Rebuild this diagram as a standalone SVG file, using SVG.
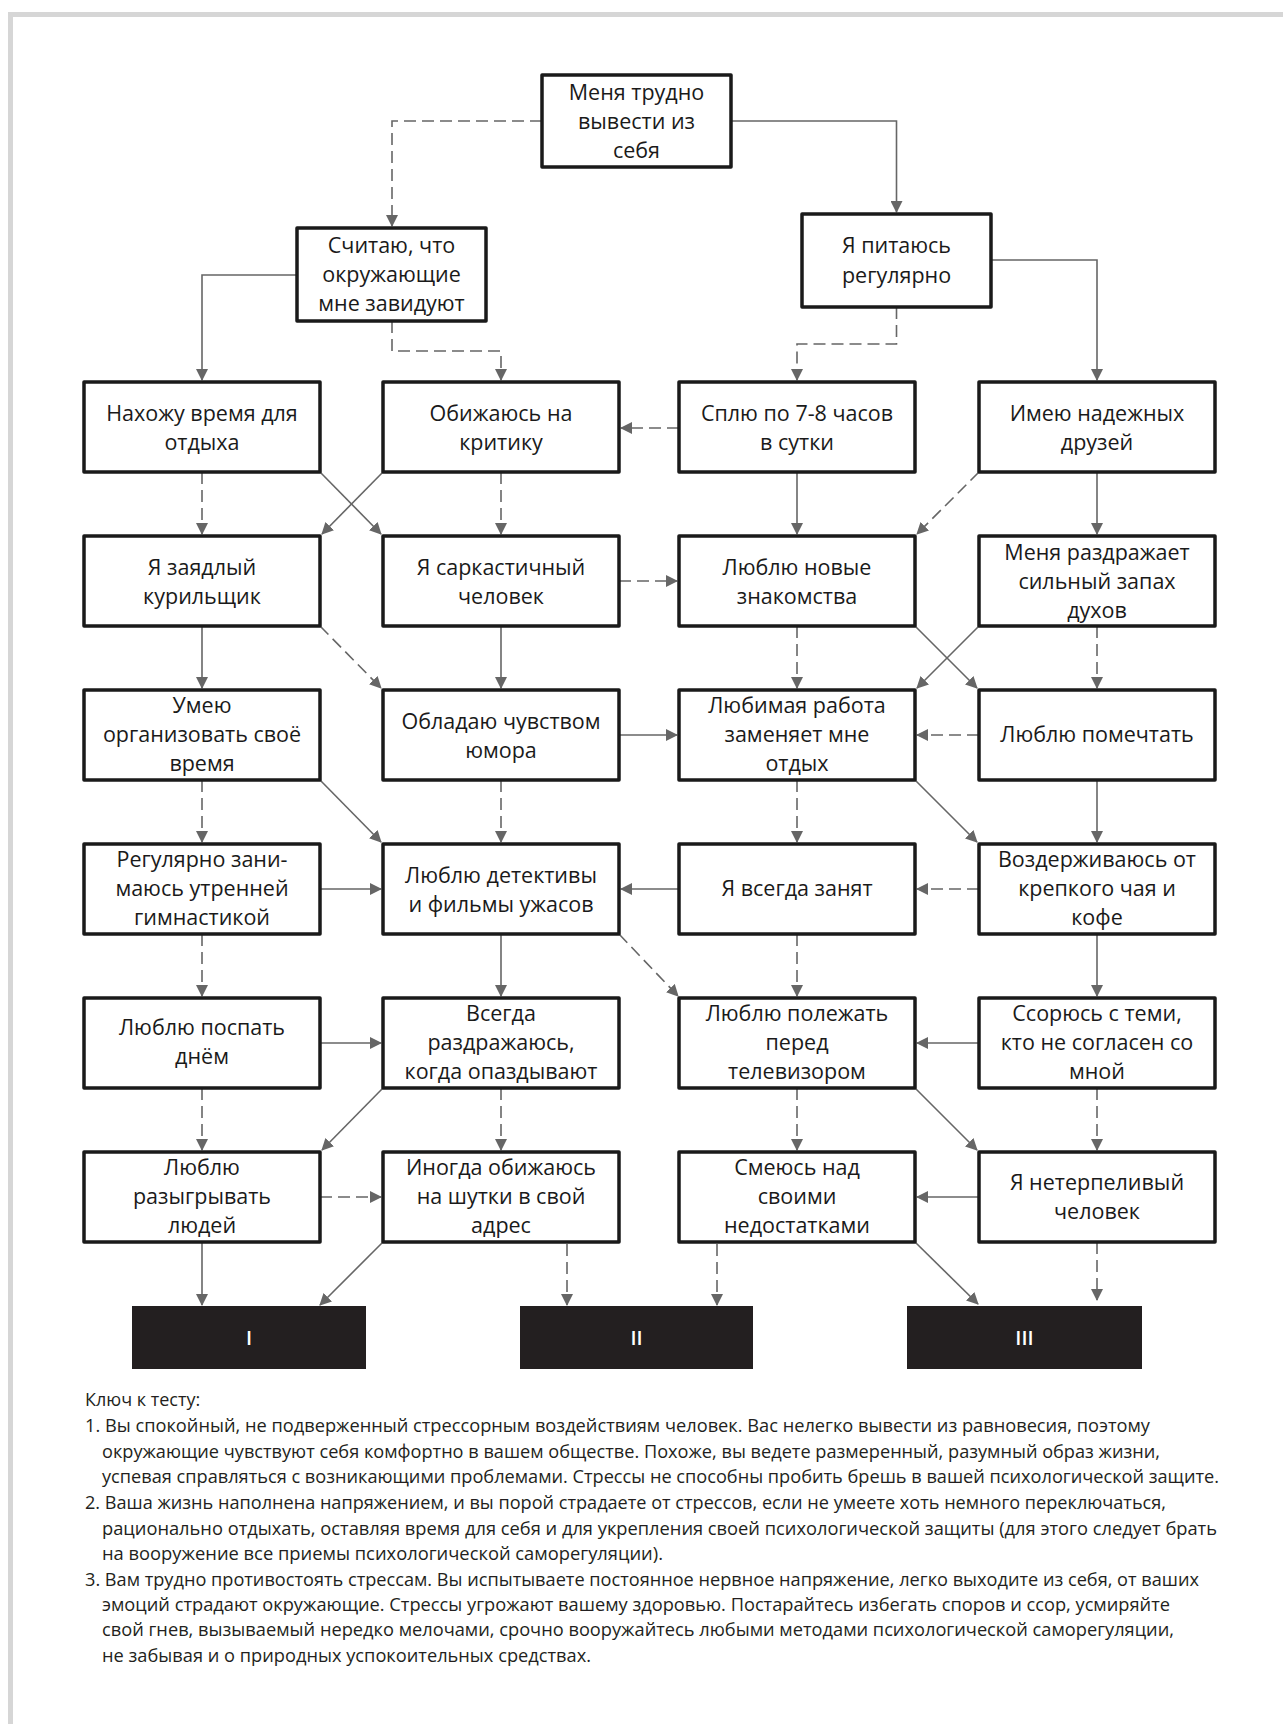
<svg xmlns="http://www.w3.org/2000/svg" width="1283" height="1724" viewBox="0 0 1283 1724">
<defs>
<marker id="ah" markerUnits="userSpaceOnUse" markerWidth="12" markerHeight="12" refX="11" refY="6" orient="auto">
<path d="M0,0 L12,6 L0,12 z" fill="#666"/>
</marker>
<style>
.box{fill:#fff;stroke:#1a1a1a;stroke-width:3.5;stroke-linejoin:round}
.out{fill:#231f20}
.t{font-family:"Open Sans","Noto Sans","DejaVu Sans",sans-serif;font-size:21.5px;fill:#1a1a1a;text-anchor:middle}
.ot{font-family:"Open Sans","Noto Sans",sans-serif;font-size:20px;font-weight:600;fill:#fff;text-anchor:middle}
.s{fill:none;stroke:#666;stroke-width:1.6;marker-end:url(#ah)}
.d{fill:none;stroke:#666;stroke-width:1.6;stroke-dasharray:12 6;marker-end:url(#ah)}
.lg{font-family:"Open Sans","Noto Sans",sans-serif;font-size:18px;fill:#231f20}
</style>
</defs>
<rect x="0" y="0" width="1283" height="1724" fill="#fff"/>
<path d="M10.5,1724 V14.5 H1283" fill="none" stroke="#d6d6d6" stroke-width="5"/>

<g id="connectors">
<path class="d" d="M542,121 H392 V226"/>
<path class="s" d="M731,121 H896.5 V212"/>
<path class="s" d="M297,275 H202 V380"/>
<path class="d" d="M392,321 V351 H501 V380"/>
<path class="d" d="M896.5,307 V344 H797 V380"/>
<path class="s" d="M991,260 H1097 V380"/>
<path class="d" d="M679,428 H621"/>
<path class="d" d="M202,472 V534"/>
<path class="s" d="M320,472 L381,534"/>
<path class="s" d="M383,472 L322,534"/>
<path class="d" d="M501,472 V534"/>
<path class="s" d="M797,472 V534"/>
<path class="d" d="M979,472 L917,534"/>
<path class="s" d="M1097,472 V534"/>
<path class="d" d="M619,581 H677"/>
<path class="s" d="M202,626 V688"/>
<path class="d" d="M320,626 L381,688"/>
<path class="s" d="M501,626 V688"/>
<path class="d" d="M797,626 V688"/>
<path class="s" d="M915,626 L977,688"/>
<path class="s" d="M979,626 L917,688"/>
<path class="d" d="M1097,626 V688"/>
<path class="s" d="M619,735 H677"/>
<path class="d" d="M979,735 H917"/>
<path class="d" d="M202,780 V842"/>
<path class="s" d="M320,780 L381,842"/>
<path class="d" d="M501,780 V842"/>
<path class="d" d="M797,780 V842"/>
<path class="s" d="M915,780 L977,842"/>
<path class="s" d="M1097,780 V842"/>
<path class="s" d="M320,889 H381"/>
<path class="s" d="M679,889 H621"/>
<path class="d" d="M979,889 H917"/>
<path class="d" d="M202,934 V996"/>
<path class="s" d="M501,934 V996"/>
<path class="d" d="M619,934 L678,996"/>
<path class="d" d="M797,934 V996"/>
<path class="s" d="M1097,934 V996"/>
<path class="s" d="M320,1043 H381"/>
<path class="s" d="M979,1043 H917"/>
<path class="d" d="M202,1088 V1150"/>
<path class="s" d="M383,1088 L322,1150"/>
<path class="d" d="M501,1088 V1150"/>
<path class="d" d="M797,1088 V1150"/>
<path class="s" d="M915,1088 L977,1150"/>
<path class="d" d="M1097,1088 V1150"/>
<path class="d" d="M320,1197 H381"/>
<path class="s" d="M979,1197 H917"/>
<path class="s" d="M202,1242 V1305"/>
<path class="s" d="M383,1242 L320,1305"/>
<path class="d" d="M567,1244 V1305"/>
<path class="d" d="M717,1244 V1305"/>
<path class="s" d="M915,1242 L978,1304"/>
<path class="d" d="M1097,1242 V1300"/>
</g>

<g id="n0"><rect class="box" x="542" y="75" width="189" height="92"/>
<text class="t" x="636.5" y="100">Меня трудно</text><text class="t" x="636.5" y="129">вывести из</text><text class="t" x="636.5" y="158">себя</text></g>
<g id="n1"><rect class="box" x="297" y="228" width="189" height="93"/>
<text class="t" x="391.5" y="253">Считаю, что</text><text class="t" x="391.5" y="282">окружающие</text><text class="t" x="391.5" y="311">мне завидуют</text></g>
<g id="n2"><rect class="box" x="802" y="214" width="189" height="93"/>
<text class="t" x="896.5" y="253">Я питаюсь</text><text class="t" x="896.5" y="283">регулярно</text></g>

<g id="r1c1"><rect class="box" x="84" y="382" width="236" height="90"/>
<text class="t" x="202" y="421">Нахожу время для</text><text class="t" x="202" y="450">отдыха</text></g>
<g id="r1c2"><rect class="box" x="383" y="382" width="236" height="90"/>
<text class="t" x="501" y="421">Обижаюсь на</text><text class="t" x="501" y="450">критику</text></g>
<g id="r1c3"><rect class="box" x="679" y="382" width="236" height="90"/>
<text class="t" x="797" y="421">Сплю по 7-8 часов</text><text class="t" x="797" y="450">в сутки</text></g>
<g id="r1c4"><rect class="box" x="979" y="382" width="236" height="90"/>
<text class="t" x="1097" y="421">Имею надежных</text><text class="t" x="1097" y="450">друзей</text></g>

<g id="r2c1"><rect class="box" x="84" y="536" width="236" height="90"/>
<text class="t" x="202" y="575">Я заядлый</text><text class="t" x="202" y="604">курильщик</text></g>
<g id="r2c2"><rect class="box" x="383" y="536" width="236" height="90"/>
<text class="t" x="501" y="575">Я саркастичный</text><text class="t" x="501" y="604">человек</text></g>
<g id="r2c3"><rect class="box" x="679" y="536" width="236" height="90"/>
<text class="t" x="797" y="575">Люблю новые</text><text class="t" x="797" y="604">знакомства</text></g>
<g id="r2c4"><rect class="box" x="979" y="536" width="236" height="90"/>
<text class="t" x="1097" y="560">Меня раздражает</text><text class="t" x="1097" y="589">сильный запах</text><text class="t" x="1097" y="618">духов</text></g>

<g id="r3c1"><rect class="box" x="84" y="690" width="236" height="90"/>
<text class="t" x="202" y="713">Умею</text><text class="t" x="202" y="742">организовать своё</text><text class="t" x="202" y="771">время</text></g>
<g id="r3c2"><rect class="box" x="383" y="690" width="236" height="90"/>
<text class="t" x="501" y="729">Обладаю чувством</text><text class="t" x="501" y="758">юмора</text></g>
<g id="r3c3"><rect class="box" x="679" y="690" width="236" height="90"/>
<text class="t" x="797" y="713">Любимая работа</text><text class="t" x="797" y="742">заменяет мне</text><text class="t" x="797" y="771">отдых</text></g>
<g id="r3c4"><rect class="box" x="979" y="690" width="236" height="90"/>
<text class="t" x="1097" y="742">Люблю помечтать</text></g>

<g id="r4c1"><rect class="box" x="84" y="844" width="236" height="90"/>
<text class="t" x="202" y="867">Регулярно зани-</text><text class="t" x="202" y="896">маюсь утренней</text><text class="t" x="202" y="925">гимнастикой</text></g>
<g id="r4c2"><rect class="box" x="383" y="844" width="236" height="90"/>
<text class="t" x="501" y="883">Люблю детективы</text><text class="t" x="501" y="912">и фильмы ужасов</text></g>
<g id="r4c3"><rect class="box" x="679" y="844" width="236" height="90"/>
<text class="t" x="797" y="896">Я всегда занят</text></g>
<g id="r4c4"><rect class="box" x="979" y="844" width="236" height="90"/>
<text class="t" x="1097" y="867">Воздерживаюсь от</text><text class="t" x="1097" y="896">крепкого чая и</text><text class="t" x="1097" y="925">кофе</text></g>

<g id="r5c1"><rect class="box" x="84" y="998" width="236" height="90"/>
<text class="t" x="202" y="1035">Люблю поспать</text><text class="t" x="202" y="1064">днём</text></g>
<g id="r5c2"><rect class="box" x="383" y="998" width="236" height="90"/>
<text class="t" x="501" y="1021">Всегда</text><text class="t" x="501" y="1050">раздражаюсь,</text><text class="t" x="501" y="1079">когда опаздывают</text></g>
<g id="r5c3"><rect class="box" x="679" y="998" width="236" height="90"/>
<text class="t" x="797" y="1021">Люблю полежать</text><text class="t" x="797" y="1050">перед</text><text class="t" x="797" y="1079">телевизором</text></g>
<g id="r5c4"><rect class="box" x="979" y="998" width="236" height="90"/>
<text class="t" x="1097" y="1021">Ссорюсь с теми,</text><text class="t" x="1097" y="1050">кто не согласен со</text><text class="t" x="1097" y="1079">мной</text></g>

<g id="r6c1"><rect class="box" x="84" y="1152" width="236" height="90"/>
<text class="t" x="202" y="1175">Люблю</text><text class="t" x="202" y="1204">разыгрывать</text><text class="t" x="202" y="1233">людей</text></g>
<g id="r6c2"><rect class="box" x="383" y="1152" width="236" height="90"/>
<text class="t" x="501" y="1175">Иногда обижаюсь</text><text class="t" x="501" y="1204">на шутки в свой</text><text class="t" x="501" y="1233">адрес</text></g>
<g id="r6c3"><rect class="box" x="679" y="1152" width="236" height="90"/>
<text class="t" x="797" y="1175">Смеюсь над</text><text class="t" x="797" y="1204">своими</text><text class="t" x="797" y="1233">недостатками</text></g>
<g id="r6c4"><rect class="box" x="979" y="1152" width="236" height="90"/>
<text class="t" x="1097" y="1190">Я нетерпеливый</text><text class="t" x="1097" y="1219">человек</text></g>

<g id="out1"><rect class="out" x="132" y="1306" width="234" height="63"/><text class="ot" x="249" y="1345">I</text></g>
<g id="out2"><rect class="out" x="520" y="1306" width="233" height="63"/><text class="ot" x="636.5" y="1345">II</text></g>
<g id="out3"><rect class="out" x="907" y="1306" width="235" height="63"/><text class="ot" x="1024.5" y="1345">III</text></g>

<g id="legend" class="lg">
<text x="85" y="1406">Ключ к тесту:</text>
<text x="85" y="1432" textLength="1065" lengthAdjust="spacingAndGlyphs">1. Вы спокойный, не подверженный стрессорным воздействиям человек. Вас нелегко вывести из равновесия, поэтому</text>
<text x="102" y="1458" textLength="1058" lengthAdjust="spacingAndGlyphs">окружающие чувствуют себя комфортно в вашем обществе. Похоже, вы ведете размеренный, разумный образ жизни,</text>
<text x="102" y="1483" textLength="1117" lengthAdjust="spacingAndGlyphs">успевая справляться с возникающими проблемами. Стрессы не способны пробить брешь в вашей психологической защите.</text>
<text x="85" y="1509" textLength="1081" lengthAdjust="spacingAndGlyphs">2. Ваша жизнь наполнена напряжением, и вы порой страдаете от стрессов, если не умеете хоть немного переключаться,</text>
<text x="102" y="1535" textLength="1115" lengthAdjust="spacingAndGlyphs">рационально отдыхать, оставляя время для себя и для укрепления своей психологической защиты (для этого следует брать</text>
<text x="102" y="1560" textLength="561" lengthAdjust="spacingAndGlyphs">на вооружение все приемы психологической саморегуляции).</text>
<text x="85" y="1586" textLength="1114" lengthAdjust="spacingAndGlyphs">3. Вам трудно противостоять стрессам. Вы испытываете постоянное нервное напряжение, легко выходите из себя, от ваших</text>
<text x="102" y="1611" textLength="1068" lengthAdjust="spacingAndGlyphs">эмоций страдают окружающие. Стрессы угрожают вашему здоровью. Постарайтесь избегать споров и ссор, усмиряйте</text>
<text x="102" y="1636" textLength="1072" lengthAdjust="spacingAndGlyphs">свой гнев, вызываемый нередко мелочами, срочно вооружайтесь любыми методами психологической саморегуляции,</text>
<text x="102" y="1662" textLength="489" lengthAdjust="spacingAndGlyphs">не забывая и о природных успокоительных средствах.</text>
</g>
</svg>
